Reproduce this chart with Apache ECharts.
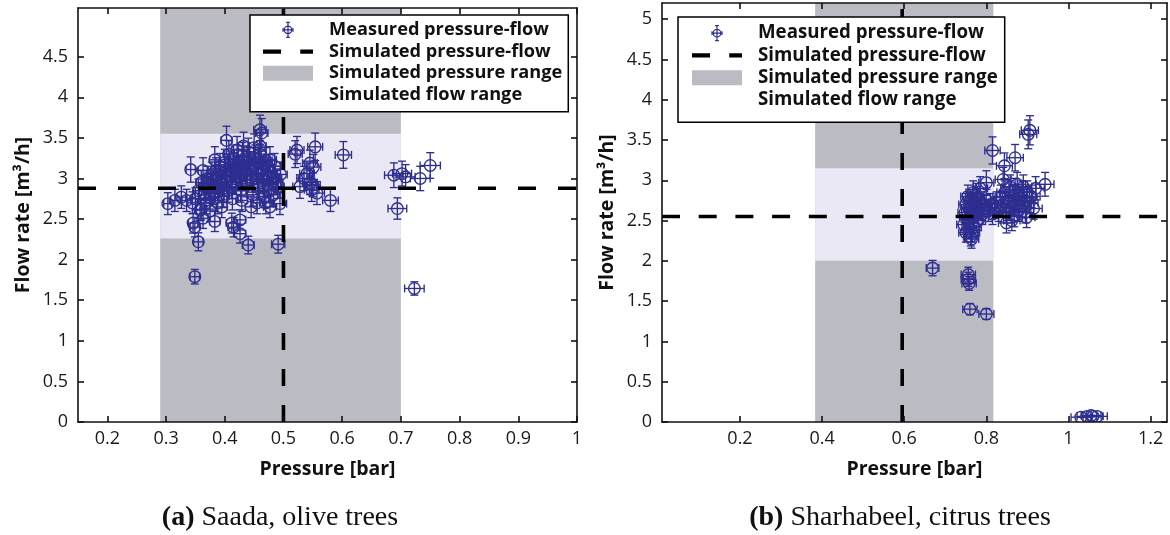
<!DOCTYPE html>
<html><head><meta charset="utf-8">
<script src="https://cdn.jsdelivr.net/npm/echarts@6/dist/echarts.min.js"></script>
<style>html,body{margin:0;padding:0;background:#fff}#c{width:1170px;height:535px}</style>
</head><body><div id="c"></div>
<script>
// ================= DATA =================
// (a) Saada, olive trees : measured [pressure (bar), flow (m3/h)]
const leftMeasured = [
 [0.303,2.69],[0.315,2.73],[0.326,2.77],[0.335,2.73],[0.342,3.11],[0.349,2.40],[0.355,2.22],[0.349,1.79],
 [0.363,3.10],[0.363,2.51],[0.383,2.47],[0.383,3.23],[0.403,3.47],[0.415,2.40],[0.426,2.49],[0.429,2.73],
 [0.426,2.32],[0.440,2.18],[0.412,2.45],[0.460,3.60],[0.463,3.56],[0.460,3.40],[0.477,3.23],[0.477,2.65],
 [0.494,2.69],[0.491,2.19],[0.474,3.14],[0.346,2.45],[0.358,2.61],
 [0.355,2.85],[0.360,2.95],[0.365,2.80],[0.368,2.70],[0.370,3.00],[0.372,2.88],[0.375,2.76],[0.378,3.05],
 [0.380,2.92],[0.382,2.82],[0.385,3.10],[0.386,2.98],[0.388,2.70],[0.390,2.87],[0.392,3.15],[0.394,3.02],
 [0.396,2.93],[0.398,2.78],[0.400,3.20],[0.401,3.08],[0.403,2.96],[0.405,2.85],[0.407,3.30],[0.408,3.12],
 [0.410,3.02],[0.412,2.90],[0.413,2.75],[0.415,3.25],[0.416,3.15],[0.418,3.05],[0.420,2.95],[0.421,3.35],
 [0.423,3.20],[0.425,3.10],[0.427,2.85],[0.428,3.00],[0.430,3.28],[0.432,3.40],[0.434,3.15],[0.436,3.05],
 [0.438,2.92],[0.440,3.33],[0.442,3.22],[0.444,3.10],[0.446,2.98],[0.448,2.80],[0.450,3.38],[0.452,3.25],
 [0.454,3.12],[0.456,3.00],[0.458,2.88],[0.460,3.30],[0.462,3.18],[0.464,3.05],[0.466,2.92],[0.468,2.78],
 [0.470,3.22],[0.472,3.00],[0.475,2.85],[0.478,3.08],[0.480,2.95],[0.483,2.80],[0.486,3.00],[0.490,2.90],
 [0.445,2.65],[0.455,2.70],[0.395,2.65],[0.375,2.60],[0.360,2.62],[0.350,2.75],[0.345,2.70],
 [0.366,2.90],[0.371,2.95],[0.377,2.85],[0.384,3.00],[0.389,3.05],[0.393,2.95],[0.399,2.88],[0.404,3.10],
 [0.409,3.18],[0.414,3.08],[0.419,3.12],[0.424,3.02],[0.431,3.12],[0.437,3.20],[0.443,3.02],[0.449,3.15],
 [0.457,3.20],[0.465,3.12],[0.473,3.10],[0.482,3.02],[0.488,2.95],[0.495,3.05],[0.485,3.15],[0.470,2.70],
 [0.523,3.35],[0.520,3.30],[0.528,2.90],[0.540,3.06],[0.545,3.19],[0.551,3.14],[0.554,3.39],[0.557,2.82],
 [0.548,2.86],[0.545,2.95],[0.535,3.00],[0.550,2.92],[0.580,2.73],[0.602,3.29],[0.688,3.04],[0.702,3.06],
 [0.708,3.02],[0.733,3.00],[0.750,3.16],[0.694,2.63],[0.723,1.645]
];
// (b) Sharhabeel, citrus trees : measured [pressure (bar), flow (m3/h)]
const rightMeasured = [
 [0.745,2.45],[0.748,2.60],[0.750,2.70],[0.752,2.55],[0.755,2.80],[0.757,2.65],[0.758,2.40],[0.760,2.50],
 [0.762,2.75],[0.764,2.27],[0.765,2.62],[0.766,2.35],[0.768,2.85],[0.770,2.55],[0.772,2.70],[0.775,2.60],
 [0.778,2.78],[0.780,2.50],[0.782,2.66],[0.785,2.90],[0.788,2.72],[0.790,2.58],[0.795,2.68],[0.800,2.97],
 [0.800,2.75],[0.805,2.62],[0.810,2.70],[0.815,2.58],[0.820,2.66],[0.825,2.72],[0.830,2.62],[0.835,2.80],
 [0.840,2.70],[0.841,3.01],[0.845,2.85],[0.849,2.47],[0.850,2.60],[0.855,2.75],[0.858,2.92],[0.860,2.65],
 [0.865,2.80],[0.868,2.55],[0.870,2.88],[0.872,2.70],[0.875,2.95],[0.878,2.62],[0.880,2.78],[0.885,2.85],
 [0.888,2.68],[0.890,2.92],[0.893,2.75],[0.895,2.60],[0.898,2.54],[0.900,2.85],[0.905,2.72],[0.910,2.80],
 [0.915,2.65],[0.920,2.90],[0.750,2.35],[0.756,2.52],[0.762,2.30],[0.770,2.42],[0.776,2.82],[0.862,2.50],
 [0.815,3.37],[0.906,3.62],[0.902,3.57],[0.870,3.28],[0.844,3.18],[0.943,2.95],
 [0.669,1.91],[0.756,1.83],[0.756,1.77],[0.758,1.72],[0.760,1.40],[0.800,1.34],
 [1.030,0.06],[1.045,0.07],[1.055,0.08],[1.060,0.07],[1.070,0.07]
];
// simulated ranges and operating points
const leftPressureRange = [0.29, 0.70];
const leftFlowRange = [2.26, 3.55];
const leftSimPoint = [0.50, 2.88];
const rightPressureRange = [0.383, 0.817];
const rightFlowRange = [2.00, 3.15];
const rightSimPoint = [0.595, 2.55];
// relative measurement uncertainty (error bars)
const flowErrFrac = 0.05;
const pressErrFrac = 0.023;
// axes
const leftXLimits = [0.15, 1.0];
const leftYLimits = [0, 5.1];
const rightXLimits = [0.01, 1.24];
const rightYLimits = [0, 5.2];
const leftXTicks = [0.2, 0.3, 0.4, 0.5, 0.6, 0.7, 0.8, 0.9, 1];
const leftYTicks = [0, 0.5, 1, 1.5, 2, 2.5, 3, 3.5, 4, 4.5];
const rightXTicks = [0.2, 0.4, 0.6, 0.8, 1, 1.2];
const rightYTicks = [0, 0.5, 1, 1.5, 2, 2.5, 3, 3.5, 4, 4.5, 5];
// text
const legendNames = ['Measured pressure-flow', 'Simulated pressure-flow', 'Simulated pressure range', 'Simulated flow range'];
const xTitle = 'Pressure [bar]';
const yTitle = 'Flow rate [m\u00B3/h]';
const captions = [['(a)', ' Saada, olive trees'], ['(b)', ' Sharhabeel, citrus trees']];

// ================= STYLE =================
const MARK = '#2e2e90';
const GRAY = '#bbbbc3';
const LAV = '#ebe8f5';
const SANS = 'Open Sans';

const chart = echarts.init(document.getElementById('c'), null, {renderer: 'canvas'});

function errBars(params, api) {
  const p = api.value(0), f = api.value(1);
  const c = api.coord([p, f]);
  const t = api.coord([p, f * (1 + flowErrFrac)]);
  const b = api.coord([p, f * (1 - flowErrFrac)]);
  const l = api.coord([p * (1 - pressErrFrac), f]);
  const r = api.coord([p * (1 + pressErrFrac), f]);
  const cap = 4, st = {stroke: MARK, lineWidth: 1.35, fill: null};
  const ln = (x1, y1, x2, y2) => ({type: 'line', shape: {x1, y1, x2, y2}, style: st});
  return {type: 'group', children: [
    ln(c[0], t[1], c[0], b[1]), ln(c[0] - cap, t[1], c[0] + cap, t[1]), ln(c[0] - cap, b[1], c[0] + cap, b[1]),
    ln(l[0], c[1], r[0], c[1]), ln(l[0], c[1] - cap, l[0], c[1] + cap), ln(r[0], c[1] - cap, r[0], c[1] + cap),
    {type: 'circle', shape: {cx: c[0], cy: c[1], r: 5.8}, style: st}
  ]};
}
function pressBand(ylim) {
  return function (params, api) {
    const a = api.coord([api.value(0), ylim[1]]);
    const b = api.coord([api.value(1), ylim[0]]);
    return {type: 'rect', shape: {x: a[0], y: a[1], width: b[0] - a[0], height: b[1] - a[1]}, style: {fill: GRAY}};
  };
}
function flowBand(params, api) {
  const a = api.coord([api.value(0), api.value(3)]);
  const b = api.coord([api.value(1), api.value(2)]);
  return {type: 'rect', shape: {x: a[0], y: a[1], width: b[0] - a[0], height: b[1] - a[1]}, style: {fill: LAV}};
}

function axesFor(i, xl, yl, xt, yt) {
  const line = {show: true, onZero: false, lineStyle: {color: '#111', width: 1.6}};
  const tick = (vals) => ({show: true, inside: true, length: 6, customValues: vals, lineStyle: {color: '#111', width: 1.6}});
  const lab = (vals) => ({show: true, customValues: vals, color: '#1a1a1a', fontFamily: SANS, fontSize: 18});
  const nameStyle = {fontFamily: SANS, fontWeight: 'bold', fontSize: 19.5, color: '#111'};
  return {
    x: [
      {type: 'value', gridIndex: i, min: xl[0], max: xl[1], position: 'bottom', axisLine: line, axisTick: tick(xt),
       axisLabel: Object.assign(lab(xt), {margin: 8}), splitLine: {show: false},
       name: xTitle, nameLocation: 'middle', nameGap: 37, nameTextStyle: nameStyle, z: 5},
      {type: 'value', gridIndex: i, min: xl[0], max: xl[1], position: 'top', axisLine: line, axisTick: tick(xt),
       axisLabel: {show: false}, splitLine: {show: false}, z: 5}
    ],
    y: [
      {type: 'value', gridIndex: i, min: yl[0], max: yl[1], position: 'left', axisLine: line, axisTick: tick(yt),
       axisLabel: Object.assign(lab(yt), {margin: 10}), splitLine: {show: false},
       name: yTitle, nameLocation: 'middle', nameGap: 45, nameRotate: 90, nameTextStyle: nameStyle, z: 5},
      {type: 'value', gridIndex: i, min: yl[0], max: yl[1], position: 'right', axisLine: line, axisTick: tick(yt),
       axisLabel: {show: false}, splitLine: {show: false}, z: 5}
    ]
  };
}
const A = axesFor(0, leftXLimits, leftYLimits, leftXTicks, leftYTicks);
const B = axesFor(1, rightXLimits, rightYLimits, rightXTicks, rightYTicks);

function seriesFor(xAxisIndex, yAxisIndex, measured, pr, fr, sim, xl, yl, dashH, dashV) {
  return [
    {type: 'custom', name: legendNames[2], xAxisIndex, yAxisIndex, renderItem: pressBand(yl), data: [pr], z: 1, silent: true,
     itemStyle: {color: GRAY}, clip: true},
    {type: 'custom', name: legendNames[3], xAxisIndex, yAxisIndex, renderItem: flowBand, data: [[pr[0], pr[1], fr[0], fr[1]]], z: 1, silent: true,
     itemStyle: {color: LAV}, clip: true},
    {type: 'custom', name: legendNames[0], xAxisIndex, yAxisIndex, renderItem: errBars, data: measured, z: 2, clip: true,
     itemStyle: {color: MARK}},
    {type: 'line', name: legendNames[1], xAxisIndex, yAxisIndex, data: [[xl[0], sim[1]], [xl[1], sim[1]]], symbol: 'none', z: 3,
     lineStyle: {color: '#000', width: 3.6, type: dashH}, silent: true, animation: false},
    {type: 'line', name: legendNames[1], xAxisIndex, yAxisIndex, data: [[sim[0], yl[0]], [sim[0], yl[1]]], symbol: 'none', z: 3,
     lineStyle: {color: '#000', width: 3.6, type: dashV}, silent: true, animation: false}
  ];
}

const markerIcon = 'path://M21,15 A6,6 0 1,1 9,15 A6,6 0 1,1 21,15 M15,3 L15,27 M12,3 L18,3 M12,27 L18,27 M7,15 L23,15 M7,12 L7,18 M23,12 L23,18';
const dashIcon = 'path://M0,0 L17,0 L17,4 L0,4 Z M35,0 L47,0 L47,4 L35,4 Z';
function legendFor(left, top, fontSize, lineHeight, padding) {
  return {
    left, top, orient: 'vertical', selectedMode: false, itemWidth: 50, itemHeight: 15, itemGap: 0,
    backgroundColor: '#fff', borderColor: '#000', borderWidth: 1.5, borderRadius: 0, padding,
    textStyle: {fontFamily: SANS, fontWeight: 'bold', fontSize, lineHeight, color: '#111', padding: [0, 0, 0, 11]},
    data: [
      {name: legendNames[0], icon: markerIcon, itemStyle: {color: 'rgba(0,0,0,0)', borderColor: MARK, borderWidth: 1.2}},
      {name: legendNames[1], icon: dashIcon, itemStyle: {color: '#000', borderWidth: 0}},
      {name: legendNames[2], icon: 'rect', itemStyle: {color: GRAY, borderWidth: 0}},
      {name: legendNames[3], icon: 'rect', itemStyle: {color: '#fff', opacity: 0, borderWidth: 0}}
    ]
  };
}

const option = {
  animation: false,
  backgroundColor: '#fff',
  grid: [
    {left: 78, top: 8, width: 499, height: 414},
    {left: 662, top: 3, width: 505, height: 419}
  ],
  xAxis: [...A.x, ...B.x],
  yAxis: [...A.y, ...B.y],
  legend: [
    legendFor(250, 15, 18.2, 21.7, [4, 6, 6, 13]),
    legendFor(678, 17, 18.7, 22.3, [5, 7, 11, 14])
  ],
  series: [
    ...seriesFor(0, 0, leftMeasured, leftPressureRange, leftFlowRange, leftSimPoint, leftXLimits, leftYLimits, [18, 22], [17, 19]),
    ...seriesFor(2, 2, rightMeasured, rightPressureRange, rightFlowRange, rightSimPoint, rightXLimits, rightYLimits, [18, 18.7], [17, 19])
  ],
  graphic: captions.map((c, i) => ({
    type: 'text', x: i === 0 ? 280 : 900, y: 518,
    style: {
      text: '{b|' + c[0] + '}{r|' + c[1] + '}', align: 'center', verticalAlign: 'middle',
      rich: {
        b: {fontFamily: 'Liberation Serif', fontWeight: 'bold', fontSize: 28, fill: '#111'},
        r: {fontFamily: 'Liberation Serif', fontSize: 28, fill: '#111'}
      }
    }
  }))
};
chart.setOption(option);
</script></body></html>
